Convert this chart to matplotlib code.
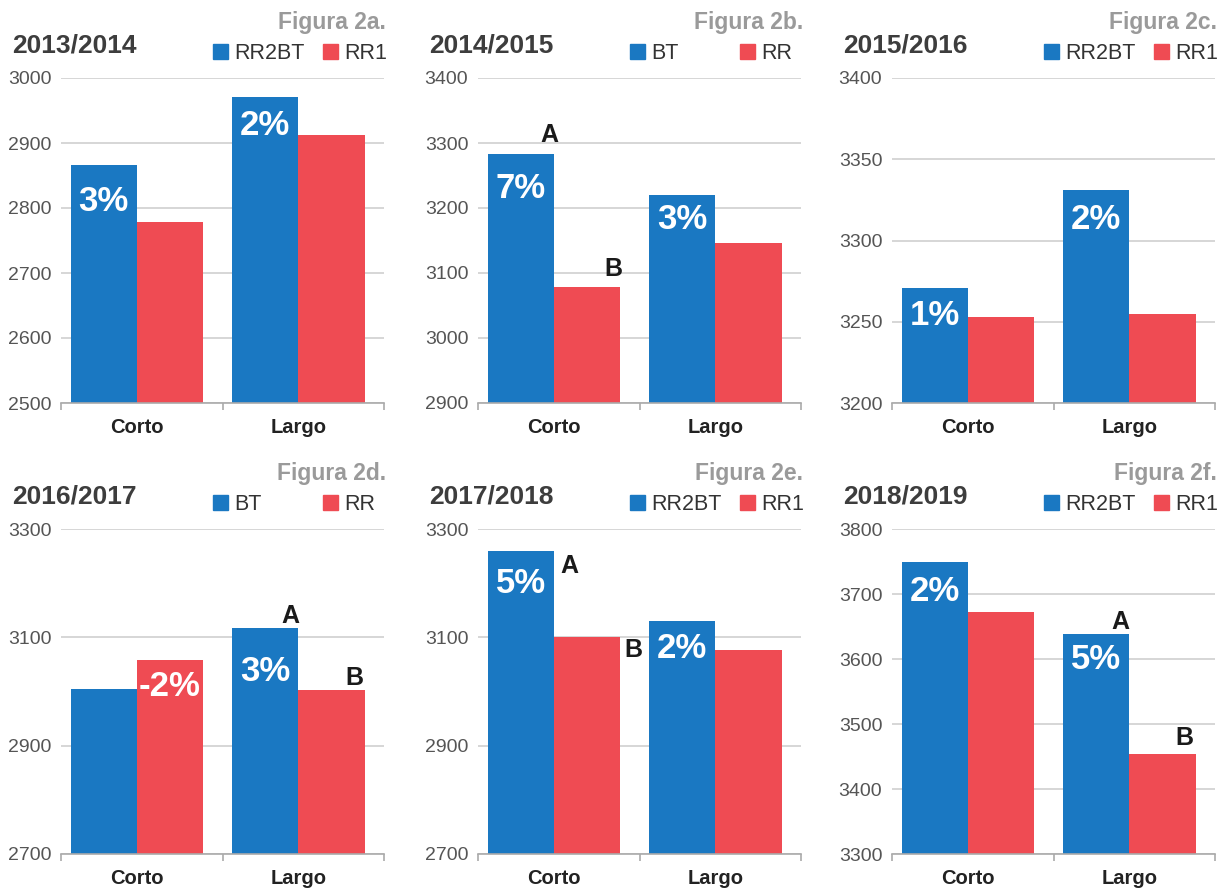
import numpy as np
import matplotlib.pyplot as plt
from matplotlib.patches import Rectangle
from matplotlib.transforms import offset_copy

plt.rcParams['font.family'] = ['Liberation Sans', 'DejaVu Sans']

# data
categories = ["Corto", "Largo"]
seasons = ["2013/2014", "2014/2015", "2015/2016", "2016/2017", "2017/2018", "2018/2019"]
figure_tags = ["Figura 2a.", "Figura 2b.", "Figura 2c.", "Figura 2d.", "Figura 2e.", "Figura 2f."]
blue_names = ["RR2BT", "BT", "RR2BT", "BT", "RR2BT", "RR2BT"]
red_names = ["RR1", "RR", "RR1", "RR", "RR1", "RR1"]
blue_values = [[2866, 2971], [3283, 3220], [3271, 3331], [3004, 3118], [3260, 3131], [3749, 3639]]
red_values = [[2778, 2912], [3078, 3146], [3253, 3255], [3059, 3002], [3101, 3076], [3673, 3454]]
y_min = [2500, 2900, 3200, 2700, 2700, 3300]
y_max = [3000, 3400, 3400, 3300, 3300, 3800]
y_step = [100, 100, 50, 200, 200, 100]
# (series, category index, text)
pct_labels = [
    [("blue", 0, "3%"), ("blue", 1, "2%")],
    [("blue", 0, "7%"), ("blue", 1, "3%")],
    [("blue", 0, "1%"), ("blue", 1, "2%")],
    [("red", 0, "-2%"), ("blue", 1, "3%")],
    [("blue", 0, "5%"), ("blue", 1, "2%")],
    [("blue", 0, "2%"), ("blue", 1, "5%")],
]
letter_labels = [
    [],
    [("blue", 0, "A"), ("red", 0, "B")],
    [],
    [("blue", 1, "A"), ("red", 1, "B")],
    [("blue", 0, "A"), ("red", 0, "B")],
    [("blue", 1, "A"), ("red", 1, "B")],
]

# layout (pixels)
pct_drop = [[46, 38], [44, 34], [37, 39], [36, 53], [42, 37], [39, 35]]
letter_off = [[], [(-5, 12), (-7, 11)], [], [(-8, 5), (-10, 5)],
              [(15.5, -22.7), (13, -20.7)], [(-9.5, 4.7), (-11, 8.7)]]

BLUE = "#1a78c2"
RED = "#ef4b53"
W, H = 1223, 889
lefts = [61, 478, 892]
tops = [78, 529]
ax_w, ax_h = 323, 325
bar_w = 0.41

fig = plt.figure(figsize=(W / 100, H / 100), dpi=100)


def fx(px):
    return px / W


def fy(py):
    return 1 - py / H


for i in range(6):
    row, col = divmod(i, 3)
    L, T = lefts[col], tops[row]
    ax = fig.add_axes([fx(L), fy(T + ax_h), ax_w / W, ax_h / H])

    x = np.arange(len(categories)) - 0.03
    ax.bar(x - bar_w / 2, blue_values[i], bar_w, color=BLUE, zorder=2)
    ax.bar(x + bar_w / 2, red_values[i], bar_w, color=RED, zorder=2)

    ax.set_xlim(-0.5, 1.5)
    ax.set_ylim(y_min[i], y_max[i])
    ax.set_yticks(np.arange(y_min[i], y_max[i] + 1, y_step[i]))
    ax.tick_params(axis='y', length=0, pad=7, labelsize=14, labelcolor='#555555')
    ax.set_xticks([-0.5, 0.5, 1.5])
    ax.set_xticklabels([])
    ax.tick_params(axis='x', length=5, width=1.2, color='#aaaaaa', direction='out')
    for s in ['top', 'left', 'right']:
        ax.spines[s].set_visible(False)
    ax.spines['bottom'].set_color('#aaaaaa')
    ax.spines['bottom'].set_linewidth(1.2)
    ax.grid(axis='y', color='#d0d0d0', linewidth=1.2, zorder=0)
    ax.set_axisbelow(True)

    # category labels
    for j, c in enumerate(categories):
        tr = offset_copy(ax.get_xaxis_transform(), fig=fig, x=0, y=-30, units='dots')
        ax.text(x[j], 0, c, transform=tr, ha='center', va='baseline',
                fontsize=14.5, fontweight='bold', color='#222222')

    # percent labels inside bars
    for k, (ser, j, txt) in enumerate(pct_labels[i]):
        xc = x[j] - bar_w / 2 if ser == "blue" else x[j] + bar_w / 2
        yv = blue_values[i][j] if ser == "blue" else red_values[i][j]
        tr = offset_copy(ax.transData, fig=fig, x=0, y=-pct_drop[i][k], units='dots')
        ax.text(xc, yv, txt, transform=tr, ha='center', va='baseline',
                fontsize=25, fontweight='bold', color='white', zorder=5)

    # significance letters
    for k, (ser, j, txt) in enumerate(letter_labels[i]):
        xr = x[j] if ser == "blue" else x[j] + bar_w
        yv = blue_values[i][j] if ser == "blue" else red_values[i][j]
        dx, dy = letter_off[i][k]
        tr = offset_copy(ax.transData, fig=fig, x=dx, y=dy, units='dots')
        ax.text(xr, yv, txt, transform=tr, ha='center', va='baseline',
                fontsize=18, fontweight='bold', color='#1a1a1a', zorder=5,
                clip_on=False)

    R = L + ax_w
    # season title
    fig.text(fx(L - 49), fy(T - 25.5), seasons[i], ha='left', va='baseline',
             fontsize=19, fontweight='bold', color='#3d3d3d')
    # figure tag
    fig.text(fx(R + 2), fy(T - 49), figure_tags[i], ha='right', va='baseline',
             fontsize=16.5, fontweight='bold', color='#9a9a9a')
    # legend
    for sq_x, col_, name in [(R - 171, BLUE, blue_names[i]), (R - 61, RED, red_names[i])]:
        fig.patches.append(Rectangle((fx(sq_x), fy(T - 19)), 15 / W, 15 / H,
                                     transform=fig.transFigure, color=col_))
        fig.text(fx(sq_x + 21), fy(T - 19), name, ha='left', va='baseline',
                 fontsize=15.5, color='#333333')

fig.savefig("out.png", dpi=100)
